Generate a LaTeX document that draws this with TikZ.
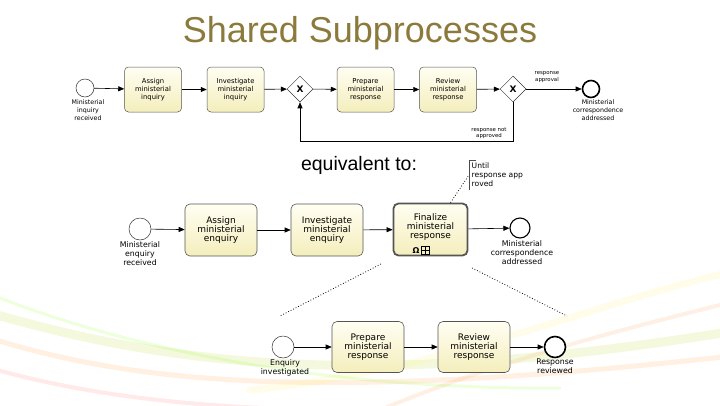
\documentclass[tikz,border=0pt]{standalone}
\usepackage{fontspec}
\setmainfont{Liberation Sans}
\newfontfamily\dvs{DejaVu Sans}
\usetikzlibrary{shapes.geometric,arrows.meta}
\definecolor{titlecol}{HTML}{8C7A3C}
\definecolor{tasktop}{HTML}{FFFEF2}
\definecolor{taskbot}{HTML}{F4EEBC}
\definecolor{taskline}{HTML}{555555}
\tikzset{
  flow/.style={draw=black, line width=0.6pt, -{Triangle[length=6pt,width=5pt]}},
  smalltask/.style={draw=taskline, line width=0.5pt, rounded corners=4pt, top color=tasktop, bottom color=taskbot,
    minimum width=57pt, minimum height=45pt, align=center, inner sep=1pt, font=\dvs\fontsize{6.8}{8.2}\selectfont},
  bigtask/.style={draw=taskline, line width=0.6pt, rounded corners=5pt, top color=tasktop, bottom color=taskbot,
    minimum width=72pt, minimum height=52pt, align=center, inner sep=1pt, font=\dvs\fontsize{9}{9.2}\selectfont},
  startev/.style={circle, draw=black!80, line width=0.5pt, fill=white, inner sep=0pt},
  endev/.style={circle, draw=black, line width=1.6pt, fill=white, inner sep=0pt},
  gate/.style={diamond, draw=black!80, line width=0.5pt, fill=white, inner sep=0pt, minimum width=26pt, minimum height=26pt, font=\dvs\bfseries\fontsize{9}{9}\selectfont},
  smalllab/.style={align=center, inner sep=0pt, font=\dvs\fontsize{6.3}{7.8}\selectfont},
  tinylab/.style={align=center, inner sep=0pt, font=\dvs\fontsize{5.4}{6.4}\selectfont},
  midlab/.style={align=center, inner sep=0pt, font=\dvs\fontsize{7.8}{9}\selectfont},
  assoc/.style={draw=black, line width=0.8pt, dotted},
  swoosh/.style={line cap=round, opacity=0.14}
}
\begin{document}
\begin{tikzpicture}[x=1pt,y=-1pt]
\useasboundingbox (0,0) rectangle (720,405);
\fill[white] (0,0) rectangle (720,405);
% background swooshes
\begin{scope}
\clip (0,0) rectangle (720,405);
\draw[swoosh, line width=9pt, color=yellow!70!green] (-20,310) .. controls (150,360) and (350,395) .. (740,330);
\draw[swoosh, line width=5pt, color=orange!80] (-20,335) .. controls (120,380) and (300,405) .. (740,355);
\draw[swoosh, line width=4pt, color=red!60] (-20,365) .. controls (80,395) and (200,410) .. (360,410);
\draw[swoosh, line width=7pt, color=yellow!60] (740,270) .. controls (600,300) and (450,370) .. (250,390);
\draw[swoosh, line width=4pt, color=orange!60!pink] (740,300) .. controls (620,330) and (500,360) .. (380,410);
\draw[swoosh, line width=3pt, color=green!50!yellow] (-20,290) .. controls (100,340) and (300,390) .. (560,388);
\end{scope}
% title
\node[font=\fontsize{36}{40}\selectfont, text=titlecol, inner sep=0pt] (title) at (360,33) {Shared Subprocesses};
% top row
\node[startev, minimum size=18pt] (s1) at (85,88) {};
\node[smalltask] (t1) at (153,89.5) {Assign\\ministerial\\inquiry};
\node[smalltask] (t2) at (235.5,89.5) {Investigate\\ministerial\\inquiry};
\node[gate] (g1) at (300,89) {X};
\node[smalltask] (t3) at (365.5,89.5) {Prepare\\ministerial\\response};
\node[smalltask] (t4) at (448,89.5) {Review\\ministerial\\response};
\node[gate] (g2) at (513,89) {X};
\node[endev, minimum size=17pt] (e1) at (591,89) {};
\node[smalllab, anchor=north] (l1) at (88,100) {Ministerial\\inquiry\\received};
\node[smalllab, anchor=north] (l2) at (598,100) {Ministerial\\correspondence\\addressed};
\node[tinylab] (l3) at (547,77) {response\\approval};
\node[tinylab] (l4) at (489,133) {response not\\approved};
\coordinate (loopy) at (0,141.7);
\draw[flow] (s1) -- (t1);
\draw[flow] (t1) -- (t2);
\draw[flow] (t2) -- (g1);
\draw[flow] (g1) -- (t3);
\draw[flow] (t3) -- (t4);
\draw[flow] (t4) -- (g2);
\draw[flow] (g2) -- (e1);
\draw[flow] (g2.south) -- (g2.south |- loopy) -| (g1.south);
% equivalent to
\node[font=\fontsize{19.5}{22}\selectfont, inner sep=0pt] (eq) at (359,165) {equivalent to:};
% middle row
\node[startev, minimum size=22pt] (s2) at (140,229) {};
\node[bigtask] (t5) at (221,230) {Assign\\ministerial\\enquiry};
\node[bigtask] (t6) at (327,230) {Investigate\\ministerial\\enquiry};
\node[bigtask, line width=1.8pt, minimum width=74pt, minimum height=52pt] (t7) at (430.5,229.5) {Finalize\\ministerial\\response\\[-2pt]\mbox{}};
\node[endev, line width=1.1pt, minimum size=20pt] (e2) at (520,228) {};
\node[midlab, anchor=north] (l5) at (140,241) {Ministerial\\enquiry\\received};
\node[midlab, anchor=north] (l6) at (522,240) {Ministerial\\correspondence\\addressed};
% loop and plus markers
\node[inner sep=0pt, font=\dvs\bfseries\fontsize{8}{8}\selectfont] (om) at (416,250.5) {Ω};
\node[draw=black, line width=0.6pt, minimum size=8pt, inner sep=0pt] (pb) at (425,250.5) {};
\draw[line width=0.6pt] (pb.north) -- (pb.south) (pb.west) -- (pb.east);
% annotation
\node[align=left, anchor=west, inner sep=2.5pt, font=\dvs\fontsize{7.6}{9}\selectfont] (ann) at (469,175) {Until\\response app\\roved};
\draw[line width=0.5pt, draw=black!70] ([xshift=7pt]ann.north west) -- (ann.north west) -- (ann.south west);
\draw[assoc] ([xshift=20pt]t7.north) -- (ann.west);
\draw[flow] (s2) -- (t5);
\draw[flow] (t5) -- (t6);
\draw[flow] (t6) -- (t7);
\draw[flow] (t7) -- (e2);
% lower row
\node[startev, minimum size=22pt] (s3) at (283,347) {};
\node[bigtask, minimum height=51pt] (t8) at (368,347) {Prepare\\ministerial\\response};
\node[bigtask, minimum height=51pt] (t9) at (474,347) {Review\\ministerial\\response};
\node[endev, minimum size=21pt] (e3) at (555,347) {};
\node[midlab, anchor=north] (l7) at (285,359) {Enquiry\\investigated};
\node[midlab, anchor=north] (l8) at (555,359) {Response\\reviewed};
\draw[flow] (s3) -- (t8);
\draw[flow] (t8) -- (t9);
\draw[flow] (t9) -- (e3);
% expansion lines
\coordinate (x1) at (381,264);
\coordinate (x2) at (280,316);
\coordinate (x3) at (472,268);
\coordinate (x4) at (567,316);
\draw[assoc] (x1) -- (x2);
\draw[assoc] (x3) -- (x4);
\end{tikzpicture}
\end{document}
